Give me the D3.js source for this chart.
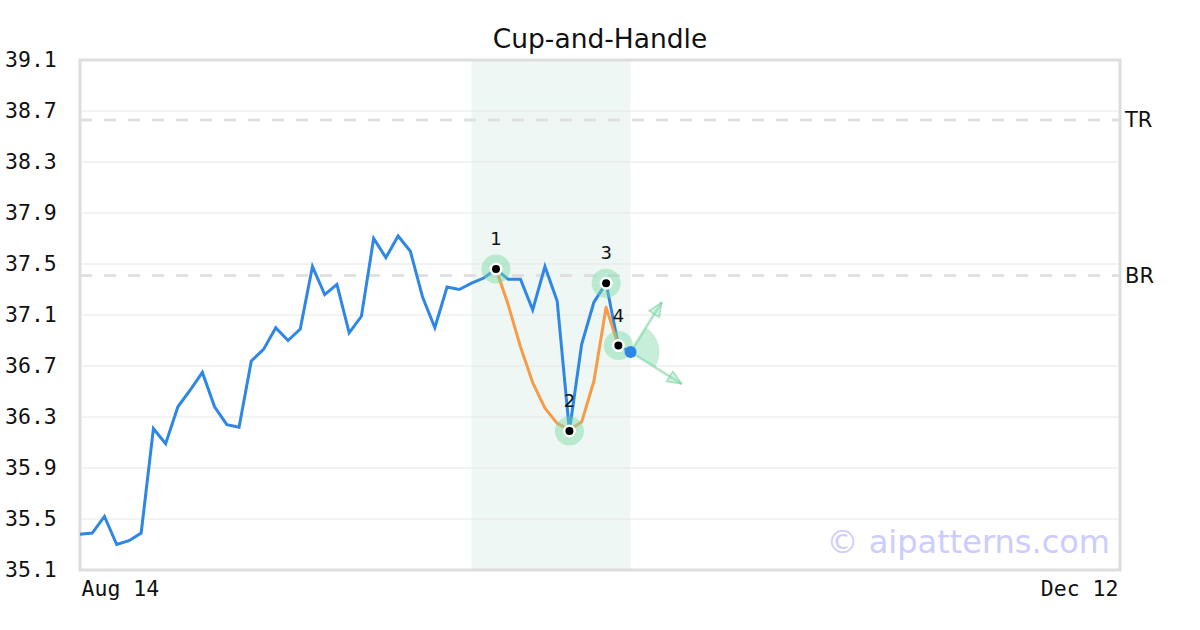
<!DOCTYPE html>
<html>
<head>
<meta charset="utf-8">
<script src="https://cdn.jsdelivr.net/npm/d3@7"></script>
<style>
  html, body { margin: 0; padding: 0; background: #fff; }
  svg { display: block; }
</style>
</head>
<body>
<svg id="chart" width="1200" height="630"></svg>
<script>
// ---------- data ----------
const title = "Cup-and-Handle";
const xTickIndex = [0, 85];
const xTickLabels = ["Aug 14", "Dec 12"];
const yTicks = [35.1, 35.5, 35.9, 36.3, 36.7, 37.1, 37.5, 37.9, 38.3, 38.7, 39.1];
const prices = [35.38, 35.39, 35.52, 35.30, 35.33, 35.39, 36.21, 36.09, 36.38, 36.51,
                36.65, 36.38, 36.24, 36.22, 36.74, 36.83, 37.00, 36.90, 36.99, 37.48,
                37.26, 37.34, 36.96, 37.09, 37.70, 37.55, 37.72, 37.60, 37.24, 37.00,
                37.32, 37.30, 37.35, 37.39, 37.46, 37.38, 37.38, 37.14, 37.48, 37.21,
                36.19, 36.87, 37.20, 37.35, 36.86, 36.81];
const fitStart = 34;
const fitValues = [37.46, 37.18, 36.85, 36.57, 36.37, 36.25, 36.20, 36.26, 36.58, 37.16, 36.86];
const pivotIndex = [34, 40, 43, 44];
const pivotValues = [37.46, 36.19, 37.35, 36.86];
const pivotLabels = ["1", "2", "3", "4"];
const shadeRange = [32, 45];
const levelNames = ["TR", "BR"];
const levelValues = [38.63, 37.41];
const arrowTargetIndex = [47.54, 49.17];
const arrowTargetValues = [37.20, 36.56];
const watermark = "\u00a9 aipatterns.com";

// ---------- layout ----------
const svg = d3.select("#chart");
const L = 80, R = 1120, T = 60, B = 570;
const x = d3.scaleLinear().domain([0, 85]).range([L, R]);
const y = d3.scaleLinear().domain([35.1, 39.1]).range([B, T]);
const mono = "'DejaVu Sans Mono', monospace";
const sans = "'DejaVu Sans', sans-serif";

// shaded pattern window
svg.append("rect")
  .attr("x", x(shadeRange[0])).attr("y", T)
  .attr("width", x(shadeRange[1]) - x(shadeRange[0])).attr("height", B - T)
  .attr("fill", "#eef7f3");

// grid lines
svg.append("g").selectAll("line").data(yTicks).join("line")
  .attr("x1", L).attr("x2", R)
  .attr("y1", d => y(d)).attr("y2", d => y(d))
  .attr("stroke", "#e6e6e6").attr("stroke-width", 1);

// y tick labels via axis
const yAxis = svg.append("g").attr("transform", `translate(${L},0)`)
  .call(d3.axisLeft(y).tickValues(yTicks).tickFormat(d3.format(".1f")).tickSize(0).tickPadding(0));
yAxis.select(".domain").remove();
yAxis.selectAll("text")
  .attr("x", -75).attr("text-anchor", "start")
  .attr("font-family", mono).attr("font-size", 21.5).attr("fill", "#111");

// x tick labels via axis
const xAxis = svg.append("g").attr("transform", `translate(0,${B})`)
  .call(d3.axisBottom(x).tickValues(xTickIndex).tickFormat((d, i) => xTickLabels[i]).tickSize(0).tickPadding(0));
xAxis.select(".domain").remove();
xAxis.selectAll("text")
  .attr("y", 26).attr("dy", 0)
  .attr("text-anchor", (d, i) => i === 0 ? "start" : "end")
  .attr("dx", (d, i) => i === 0 ? 1 : -2)
  .attr("font-family", mono).attr("font-size", 21.5).attr("fill", "#111");

// resistance levels
svg.append("g").selectAll("line").data(levelValues).join("line")
  .attr("x1", L).attr("x2", R)
  .attr("y1", d => y(d)).attr("y2", d => y(d))
  .attr("stroke", "#e0e0e0").attr("stroke-width", 3)
  .attr("stroke-dasharray", "12,12");
svg.append("g").selectAll("text").data(levelNames).join("text")
  .attr("x", R + 5).attr("y", (d, i) => y(levelValues[i]))
  .attr("dy", "0.36em")
  .attr("font-family", sans).attr("font-size", 21).attr("fill", "#111")
  .text(d => d);

// watermark
svg.append("text")
  .attr("x", 1110).attr("y", 553).attr("text-anchor", "end")
  .attr("font-family", sans).attr("font-size", 32).attr("fill", "#ccccff")
  .text(watermark);

// frame
svg.append("rect")
  .attr("x", L).attr("y", T).attr("width", R - L).attr("height", B - T)
  .attr("fill", "none").attr("stroke", "#dddddd").attr("stroke-width", 3);

// title
svg.append("text")
  .attr("x", 600).attr("y", 48).attr("text-anchor", "middle")
  .attr("font-family", sans).attr("font-size", 26.5).attr("fill", "#111")
  .text(title);

// price line
const line = d3.line().x(d => x(d[0])).y(d => y(d[1]));
svg.append("path")
  .datum(prices.map((v, i) => [i, v]))
  .attr("d", line)
  .attr("fill", "none").attr("stroke", "#2e86e6").attr("stroke-width", 3)
  .attr("stroke-linejoin", "miter");

// fitted cup line
svg.append("path")
  .datum(fitValues.map((v, i) => [fitStart + i, v]))
  .attr("d", line)
  .attr("fill", "none").attr("stroke", "#f7963f").attr("stroke-width", 3)
  .attr("stroke-linejoin", "round").attr("opacity", 0.95);

// projection arrows
const lastI = prices.length - 1, lastV = prices[lastI];
const cx = x(lastI), cy = y(lastV);
const angs = arrowTargetIndex.map((ti, k) => {
  const dx = x(ti) - cx, dy = y(arrowTargetValues[k]) - cy;
  return Math.atan2(dx, -dy);
});
svg.append("path")
  .attr("transform", `translate(${cx},${cy})`)
  .attr("d", d3.arc()({innerRadius: 0, outerRadius: 29, startAngle: angs[0], endAngle: angs[1]}))
  .attr("fill", "rgba(120,215,165,0.42)");

const defs = svg.append("defs");
defs.append("marker").attr("id", "ah")
  .attr("viewBox", "0 0 16 14").attr("refX", 15).attr("refY", 7)
  .attr("markerWidth", 16).attr("markerHeight", 14).attr("markerUnits", "userSpaceOnUse")
  .attr("orient", "auto")
  .append("path").attr("d", "M1,1 L15,7 L1,13 Z")
  .attr("fill", "rgba(150,225,185,0.45)").attr("stroke", "rgba(110,210,155,0.6)").attr("stroke-width", 1.5);

svg.append("g").selectAll("line").data(arrowTargetIndex).join("line")
  .attr("x1", cx).attr("y1", cy)
  .attr("x2", d => x(d)).attr("y2", (d, i) => y(arrowTargetValues[i]))
  .attr("stroke", "rgba(110,210,155,0.55)").attr("stroke-width", 2.5)
  .attr("marker-end", "url(#ah)");

// pivot markers
const pg = svg.append("g").selectAll("g").data(pivotIndex).join("g")
  .attr("transform", (d, i) => `translate(${x(d)},${y(pivotValues[i])})`);
pg.append("circle").attr("r", 14.5).attr("fill", "rgba(120,215,165,0.45)");
pg.append("circle").attr("r", 6.5).attr("fill", "#fff");
pg.append("circle").attr("r", 4).attr("fill", "#000");
pg.append("text")
  .attr("y", -24).attr("text-anchor", "middle")
  .attr("font-family", sans).attr("font-size", 18).attr("fill", "#111")
  .text((d, i) => pivotLabels[i]);

// last price dot
svg.append("circle").attr("cx", cx).attr("cy", cy).attr("r", 6).attr("fill", "#2e86e6");
</script>
</body>
</html>
